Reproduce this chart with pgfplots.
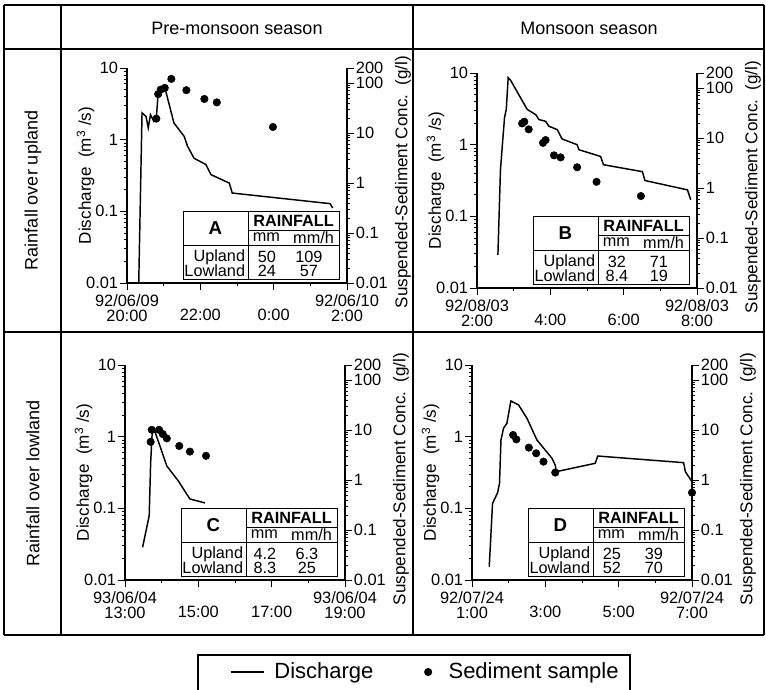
\documentclass[border=0pt]{standalone}
\usepackage{fontspec}
\setmainfont{Liberation Sans}
\usepackage{pgfplots}
\pgfplotsset{compat=1.18}
\newcommand\tk{\fontsize{12.3}{11}\selectfont}
\newcommand\lab{\fontsize{12.8}{14}\selectfont}
\newcommand\hdr{\fontsize{13.5}{16}\selectfont}
\newcommand\lgf{\fontsize{16.5}{19}\selectfont}
\newcommand\tbf{\fontsize{12.2}{12}\selectfont}

\pgfplotsset{every axis/.append style={scale only axis, width=165pt, height=161.25pt, ymin=0.01, anchor=south west,
   tick align=outside, major tick length=5.5pt, minor tick length=2.5pt,
   tick style={black, line width=0.6pt},
   axis line style={line width=0.8pt},
   ticklabel style={font=\tk, inner sep=1pt}}}

\newcommand\rtab[5]{%
 \fill[white] (rel axis cs:0.2545,0.0186) rectangle (rel axis cs:0.9636,0.335);
 \draw[line width=0.7pt] (rel axis cs:0.2545,0.0186) rectangle (rel axis cs:0.9636,0.335);
 \draw[line width=0.7pt] (rel axis cs:0.55,0.0186) -- (rel axis cs:0.55,0.335);
 \draw[line width=0.7pt] (rel axis cs:0.55,0.2465) -- (rel axis cs:0.9636,0.2465);
 \draw[line width=0.7pt] (rel axis cs:0.2545,0.1767) -- (rel axis cs:0.9636,0.1767);
 \node[font=\fontsize{14}{15}\selectfont\bfseries, inner sep=0pt] at (rel axis cs:0.402,0.256) {#1};
 \node[font=\tbf\bfseries, inner sep=0pt] at (rel axis cs:0.757,0.291) {RAINFALL};
 \node[font=\tbf, inner sep=0pt] at (rel axis cs:0.634,0.212) {mm};
 \node[font=\tbf, inner sep=0pt] at (rel axis cs:0.848,0.212) {mm/h};
 \node[font=\tbf, inner sep=0pt, anchor=east] at (rel axis cs:0.538,0.121) {Upland};
 \node[font=\tbf, inner sep=0pt, anchor=east] at (rel axis cs:0.538,0.056) {Lowland};
 \node[font=\tbf, inner sep=0pt] at (rel axis cs:0.636,0.121) {#2};
 \node[font=\tbf, inner sep=0pt] at (rel axis cs:0.827,0.121) {#3};
 \node[font=\tbf, inner sep=0pt] at (rel axis cs:0.636,0.056) {#4};
 \node[font=\tbf, inner sep=0pt] at (rel axis cs:0.827,0.056) {#5};
}

\newcommand\sidelabels[2]{%
 \node[rotate=90, font=\lab, inner sep=1pt] at (#1-31pt, #2+80.6pt) {Discharge\ \ (m\textsuperscript{3} /s)};
 \node[rotate=90, font=\lab, inner sep=1pt] at (#1+207pt, #2+75.8pt) {Suspended-Sediment Conc.\ \ (g/l)};
}

\begin{document}
\begin{tikzpicture}
\path[use as bounding box] (0,0) rectangle (574.5pt,516.75pt);

% grid frame
\begin{scope}[line width=1.1pt]
\draw (3pt,513pt) -- (573pt,513pt);
\draw (3pt,480pt) -- (573pt,480pt);
\draw (3pt,267.75pt) -- (573pt,267.75pt);
\draw (3pt,40.5pt) -- (573pt,40.5pt);
\draw (3pt,40.5pt) -- (3pt,513pt);
\draw (45.75pt,40.5pt) -- (45.75pt,513pt);
\draw (309.75pt,40.5pt) -- (309.75pt,513pt);
\draw (573pt,40.5pt) -- (573pt,513pt);
\end{scope}
\node[font=\hdr] at (177.75pt,495.75pt) {Pre-monsoon season};
\node[font=\hdr] at (441.75pt,495.75pt) {Monsoon season};
\node[font=\hdr, rotate=90] at (24.75pt,373.9pt) {Rainfall over upland};
\node[font=\hdr, rotate=90] at (24.75pt,154.1pt) {Rainfall over lowland};

% ---------- Panel A ----------
\begin{axis}[at={(95.25pt,304.5pt)}, ymode=log, ymax=10, axis x line*=bottom, axis y line*=left,
  ytick={0.01,0.1,1,10}, yticklabels={0.01,0.1,1,10},
  minor ytick={0.02,0.03,0.04,0.05,0.06,0.07,0.08,0.09,0.2,0.3,0.4,0.5,0.6,0.7,0.8,0.9,2,3,4,5,6,7,8,9},
  xticklabel style={align=center, yshift=-2pt}, xmin=20, xmax=26,
  xtick={20,22,24,26}, minor xtick={21,23,25},
  xticklabels={{92/06/09\\20:00},{\vphantom{0}\\22:00},{\vphantom{0}\\0:00},{92/06/10\\2:00}}]
\addplot[black, line width=1.1pt, mark=none] coordinates {(20.32,0.01) (20.41,2.36) (20.52,2.1) (20.58,1.46) (20.64,2.23) (20.73,1.80) (20.80,2.0) (20.85,4.5) (20.92,5.0) (21.03,5.4) (21.14,3.25) (21.28,1.71) (21.56,1.11) (21.65,0.81) (21.83,0.55) (22.15,0.45) (22.29,0.325) (22.79,0.248) (22.87,0.18) (25.54,0.128) (25.61,0.111)};
\rtab{A}{50}{109}{24}{57}
\end{axis}
\begin{axis}[at={(95.25pt,304.5pt)}, ymode=log, ymax=200, axis x line=none, axis y line*=right,
  ytick={0.01,0.1,1,10,100,200}, yticklabels={0.01,0.1,1,10,100,200},
  minor ytick={0.02,0.03,0.04,0.05,0.06,0.07,0.08,0.09,0.2,0.3,0.4,0.5,0.6,0.7,0.8,0.9,2,3,4,5,6,7,8,9,20,30,40,50,60,70,80,90},
  xmin=20, xmax=26]
\addplot[black, only marks, mark=*, mark size=2.8pt] coordinates {(20.80,19.4) (20.85,60) (20.92,74) (21.03,80) (21.21,121) (21.62,72) (22.11,48) (22.45,41) (23.98,13.2)};
\end{axis}
\sidelabels{95.25pt}{304.5pt}

% ---------- Panel B ----------
\begin{axis}[at={(357.75pt,300.75pt)}, ymode=log, ymax=10, axis x line*=bottom, axis y line*=left,
  ytick={0.01,0.1,1,10}, yticklabels={0.01,0.1,1,10},
  minor ytick={0.02,0.03,0.04,0.05,0.06,0.07,0.08,0.09,0.2,0.3,0.4,0.5,0.6,0.7,0.8,0.9,2,3,4,5,6,7,8,9},
  xticklabel style={align=center, yshift=-2pt}, xmin=2, xmax=8,
  xtick={2,4,6,8}, minor xtick={3,5,7},
  xticklabels={{92/08/03\\2:00},{\vphantom{0}\\4:00},{\vphantom{0}\\6:00},{92/08/03\\8:00}}]
\addplot[black, line width=1.1pt, mark=none] coordinates {(2.57,0.029) (2.64,0.45) (2.75,2.37) (2.80,3.16) (2.85,8.6) (2.91,8.0) (3.37,3.1) (3.60,2.63) (3.69,2.24) (3.87,2.12) (3.96,1.81) (4.19,1.62) (4.32,1.2) (4.73,1.0) (4.78,0.85) (5.37,0.685) (5.45,0.525) (6.51,0.42) (6.58,0.316) (7.74,0.234) (7.83,0.17)};
\rtab{B}{32}{71}{8.4}{19}
\end{axis}
\begin{axis}[at={(357.75pt,300.75pt)}, ymode=log, ymax=200, axis x line=none, axis y line*=right,
  ytick={0.01,0.1,1,10,100,200}, yticklabels={0.01,0.1,1,10,100,200},
  minor ytick={0.02,0.03,0.04,0.05,0.06,0.07,0.08,0.09,0.2,0.3,0.4,0.5,0.6,0.7,0.8,0.9,2,3,4,5,6,7,8,9,20,30,40,50,60,70,80,90},
  xmin=2, xmax=8]
\addplot[black, only marks, mark=*, mark size=2.8pt] coordinates {(3.23,19.6) (3.29,21.2) (3.41,14.9) (3.80,8.0) (3.87,9.1) (4.10,4.5) (4.28,4.1) (4.73,2.6) (5.26,1.33) (6.47,0.69)};
\end{axis}
\sidelabels{357.75pt}{300.75pt}

% ---------- Panel C ----------
\begin{axis}[at={(93.75pt,81.75pt)}, ymode=log, ymax=10, axis x line*=bottom, axis y line*=left,
  ytick={0.01,0.1,1,10}, yticklabels={0.01,0.1,1,10},
  minor ytick={0.02,0.03,0.04,0.05,0.06,0.07,0.08,0.09,0.2,0.3,0.4,0.5,0.6,0.7,0.8,0.9,2,3,4,5,6,7,8,9},
  xticklabel style={align=center, yshift=-2pt}, xmin=13, xmax=19,
  xtick={13,15,17,19}, minor xtick={14,16,18},
  xticklabels={{93/06/04\\13:00},{\vphantom{0}\\15:00},{\vphantom{0}\\17:00},{93/06/04\\19:00}},
  legend style={draw=none, fill=none, inner sep=0pt, at={(axis description cs:0.477,-0.428)}, anchor=west,
    legend columns=2, font=\lgf, cells={anchor=west},
    /tikz/every even column/.append style={column sep=36.25pt}}]
\addplot[black, line width=1.1pt, mark=none, legend image code/.code={\draw[black, line width=0.9pt] (0pt,0pt) -- (25pt,0pt);}] coordinates {(13.48,0.0286) (13.66,0.079) (13.70,0.44) (13.74,1.09) (13.79,1.28) (13.95,0.75) (14.14,0.39) (14.45,0.243) (14.77,0.135) (15.18,0.119)};
\addlegendentry{\hspace{5.25pt}Discharge}
\addlegendimage{black, only marks, mark=*, mark size=2.8pt}
\addlegendentry{\hspace{10.5pt}Sediment sample}
\rtab{C}{4.2}{6.3}{8.3}{25}
\end{axis}
\begin{axis}[at={(93.75pt,81.75pt)}, ymode=log, ymax=200, axis x line=none, axis y line*=right,
  ytick={0.01,0.1,1,10,100,200}, yticklabels={0.01,0.1,1,10,100,200},
  minor ytick={0.02,0.03,0.04,0.05,0.06,0.07,0.08,0.09,0.2,0.3,0.4,0.5,0.6,0.7,0.8,0.9,2,3,4,5,6,7,8,9,20,30,40,50,60,70,80,90},
  xmin=13, xmax=19]
\addplot[black, only marks, mark=*, mark size=2.8pt] coordinates {(13.70,5.8) (13.73,10.1) (13.93,10.1) (14.03,8.3) (14.14,6.8) (14.48,4.8) (14.77,3.7) (15.21,3.05)};
\end{axis}
\sidelabels{93.75pt}{81.75pt}

% ---------- Panel D ----------
\begin{axis}[at={(354pt,81.75pt)}, ymode=log, ymax=10, axis x line*=bottom, axis y line*=left,
  ytick={0.01,0.1,1,10}, yticklabels={0.01,0.1,1,10},
  minor ytick={0.02,0.03,0.04,0.05,0.06,0.07,0.08,0.09,0.2,0.3,0.4,0.5,0.6,0.7,0.8,0.9,2,3,4,5,6,7,8,9},
  xticklabel style={align=center, yshift=-2pt}, xmin=1, xmax=7,
  xtick={1,3,5,7}, minor xtick={2,4,6},
  xticklabels={{92/07/24\\1:00},{\vphantom{0}\\3:00},{\vphantom{0}\\5:00},{92/07/24\\7:00}}]
\addplot[black, line width=1.1pt, mark=none] coordinates {(1.47,0.0153) (1.56,0.117) (1.70,0.166) (1.75,0.223) (1.79,0.90) (1.86,1.31) (1.95,1.53) (2.06,3.15) (2.27,2.77) (2.50,1.80) (2.77,0.90) (3.18,0.50) (3.27,0.40) (3.30,0.325) (4.36,0.425) (4.43,0.537) (6.77,0.434) (6.82,0.325) (7.00,0.235)};
\rtab{D}{25}{39}{52}{70}
\end{axis}
\begin{axis}[at={(354pt,81.75pt)}, ymode=log, ymax=200, axis x line=none, axis y line*=right,
  ytick={0.01,0.1,1,10,100,200}, yticklabels={0.01,0.1,1,10,100,200},
  minor ytick={0.02,0.03,0.04,0.05,0.06,0.07,0.08,0.09,0.2,0.3,0.4,0.5,0.6,0.7,0.8,0.9,2,3,4,5,6,7,8,9,20,30,40,50,60,70,80,90},
  xmin=1, xmax=7]
\addplot[black, only marks, mark=*, mark size=2.8pt] coordinates {(2.12,7.96) (2.21,6.5) (2.55,4.45) (2.75,3.42) (2.95,2.33) (3.27,1.41) (7.00,0.56)};
\end{axis}
\sidelabels{354pt}{81.75pt}

% legend frame
\draw[line width=0.8pt] (148.5pt,-1pt) -- (148.5pt,25.5pt) -- (472.5pt,25.5pt) -- (472.5pt,-1pt);
\end{tikzpicture}
\end{document}
